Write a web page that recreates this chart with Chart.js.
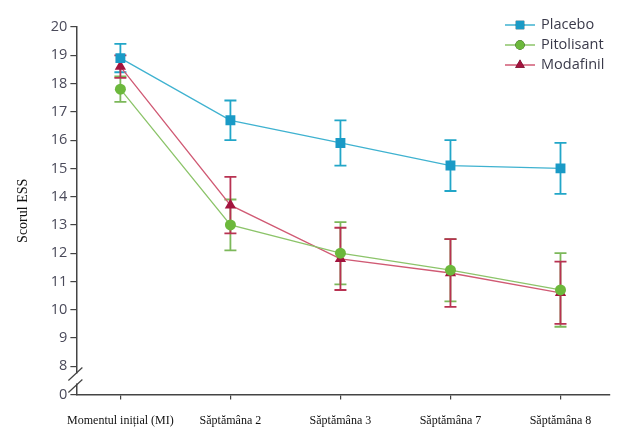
<!DOCTYPE html>
<html>
<head>
<meta charset="utf-8">
<script src="https://cdn.jsdelivr.net/npm/chart.js@4.4.0/dist/chart.umd.min.js"></script>
<style>
  html, body { margin: 0; padding: 0; background: #fff; }
  #wrap { width: 624px; height: 437px; }
</style>
</head>
<body>
<div id="wrap"><canvas id="essChart"></canvas></div>
<script>
// categories (x axis)
const labels = ['Momentul inițial (MI)', 'Săptămâna 2', 'Săptămâna 3', 'Săptămâna 7', 'Săptămâna 8'];

// mean ESS score per group
const placebo = [18.9, 16.7, 15.9, 15.1, 15.0];
const pitolisant = [17.8, 13.0, 12.0, 11.4, 10.7];
const modafinil = [18.6, 13.7, 11.8, 11.3, 10.6];

// error bar half-widths
const placeboErr = [0.5, 0.7, 0.8, 0.9, 0.9];
const pitolisantErr = [0.45, 0.9, 1.1, 1.1, 1.3];
const modafinilErr = [0.4, 1.0, 1.1, 1.2, 1.1];

// y ticks (7 is shown as 0 because of the axis break)
const yTicks = [7, 8, 9, 10, 11, 12, 13, 14, 15, 16, 17, 18, 19, 20];
const brokenAt = 7;

const toPoints = arr => arr.map((v, i) => ({ x: i, y: v }));

const errors = [placeboErr, pitolisantErr, modafinilErr];

// ERROR BARS
const errorBars = {
  id: 'errorBars',
  beforeDatasetsDraw(chart) {
    const ctx = chart.ctx;
    const xs = chart.scales.x;
    const ys = chart.scales.y;
    chart.data.datasets.forEach((ds, d) => {
      const err = errors[d];
      ctx.save();
      ctx.strokeStyle = ds.errColor;
      ctx.lineWidth = 1.8;
      ds.data.forEach((p, i) => {
        const x = xs.getPixelForValue(p.x);
        const top = ys.getPixelForValue(p.y + err[i]);
        const bot = ys.getPixelForValue(p.y - err[i]);
        ctx.beginPath();
        ctx.moveTo(x, top); ctx.lineTo(x, bot);
        ctx.moveTo(x - 6, top); ctx.lineTo(x + 6, top);
        ctx.moveTo(x - 6, bot); ctx.lineTo(x + 6, bot);
        ctx.stroke();
      });
      ctx.restore();
    });
  }
};

// AXIS BREAK + LEGEND
const extras = {
  id: 'extras',
  afterDraw(chart) {
    const ctx = chart.ctx;
    const ys = chart.scales.y;
    const x0 = chart.chartArea.left;
    const yb = ys.getPixelForValue(brokenAt + 0.5);
    ctx.save();
    ctx.fillStyle = '#fff';
    ctx.fillRect(x0 - 2, yb - 7, 4, 10);
    ctx.strokeStyle = '#444';
    ctx.lineWidth = 1.2;
    ctx.beginPath();
    ctx.moveTo(x0 - 8, yb); ctx.lineTo(x0 + 6, yb - 13);
    ctx.moveTo(x0 - 8, yb + 12); ctx.lineTo(x0 + 6, yb - 1);
    ctx.stroke();
    ctx.restore();

    // legend
    const lx = 505, ly = 25, step = 20;
    chart.data.datasets.forEach((ds, d) => {
      const y = ly + d * step;
      ctx.save();
      ctx.strokeStyle = ds.borderColor;
      ctx.lineWidth = 1.5;
      ctx.beginPath();
      ctx.moveTo(lx, y); ctx.lineTo(lx + 30, y);
      ctx.stroke();
      Chart.helpers.drawPoint(ctx, {
        pointStyle: ds.pointStyle, radius: ds.pointRadius * 0.85, borderWidth: 0, rotation: 0
      }, lx + 15, y);
      ctx.fillStyle = ds.pointBackgroundColor;
      ctx.fill();
      ctx.fillStyle = '#3a3a4a';
      ctx.font = '14.5px "Open Sans", sans-serif';
      ctx.textBaseline = 'middle';
      ctx.fillText(ds.label, lx + 36, y);
      ctx.restore();
    });
  }
};

const config = {
  type: 'line',
  data: {
    datasets: [
      {
        label: 'Placebo',
        data: toPoints(placebo),
        borderColor: '#3fb2d0',
        errColor: '#22a6c8',
        borderWidth: 1.3,
        pointStyle: 'rect',
        pointRadius: 7,
        pointBackgroundColor: '#1a9ac6',
        pointBorderWidth: 0
      },
      {
        label: 'Pitolisant',
        data: toPoints(pitolisant),
        borderColor: '#8cc46a',
        errColor: '#7cb85a',
        borderWidth: 1.3,
        pointStyle: 'circle',
        pointRadius: 5.5,
        pointBackgroundColor: '#6cb83c',
        pointBorderWidth: 0
      },
      {
        label: 'Modafinil',
        data: toPoints(modafinil),
        borderColor: '#d05a74',
        errColor: '#b83252',
        borderWidth: 1.3,
        pointStyle: 'triangle',
        pointRadius: 6.5,
        pointBackgroundColor: '#a3143e',
        pointBorderWidth: 0
      }
    ]
  },
  options: {
    responsive: true,
    maintainAspectRatio: false,
    animation: false,
    layout: { padding: { top: 27, right: 14, left: 15, bottom: -5 } },
    plugins: { legend: { display: false }, tooltip: { enabled: false } },
    scales: {
      x: {
        type: 'linear',
        min: -0.4,
        max: 4.45,
        afterBuildTicks: axis => { axis.ticks = labels.map((l, i) => ({ value: i })); },
        ticks: {
          callback: v => labels[v],
          font: { family: '"Liberation Serif", serif', size: 12 },
          color: '#111',
          maxRotation: 0,
          padding: 14
        },
        grid: { drawOnChartArea: false, drawTicks: true, tickLength: 5, color: '#444', lineWidth: 1.2 },
        border: { display: true, color: '#444', width: 1.5 }
      },
      y: {
        min: 7,
        max: 20,
        afterBuildTicks: axis => { axis.ticks = yTicks.map(v => ({ value: v })); },
        ticks: {
          callback: v => (v === brokenAt ? '0' : String(v)),
          font: { family: '"Open Sans", sans-serif', size: 14.5 },
          color: '#4a4a5a',
          padding: 3
        },
        grid: { drawOnChartArea: false, drawTicks: true, tickLength: 6, color: '#444', lineWidth: 1.2 },
        border: { display: true, color: '#444', width: 1.5 },
        title: {
          display: true,
          text: 'Scorul ESS',
          font: { family: '"Liberation Serif", serif', size: 14 },
          color: '#111',
          padding: { top: 0, bottom: 16 }
        }
      }
    }
  },
  plugins: [errorBars, extras]
};

const essChart = new Chart(document.getElementById('essChart'), config);
</script>
</body>
</html>
